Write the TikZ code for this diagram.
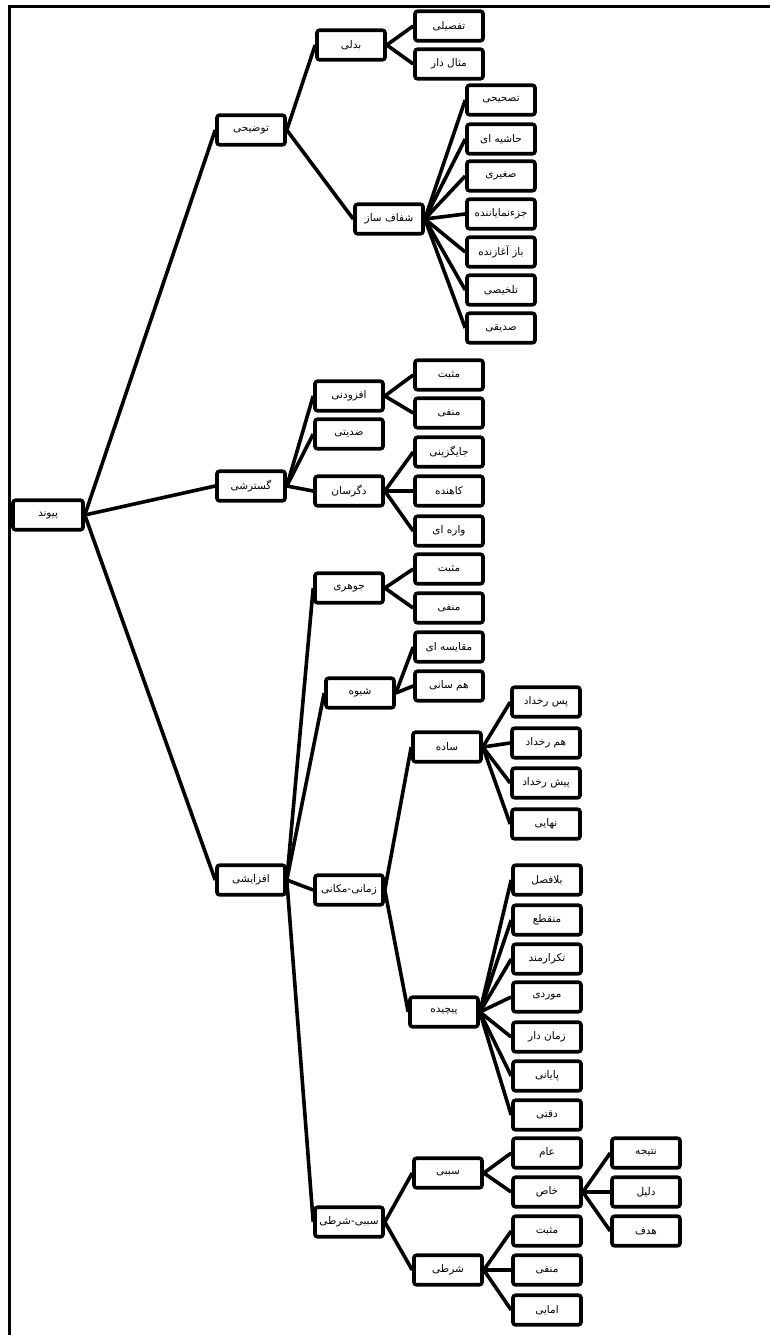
\documentclass[tikz,border=0pt]{standalone}
\usepackage{fontspec}
\newfontfamily\arabicfont[Script=Arabic]{DejaVu Sans}
\TeXXeTstate=1
\tikzset{
  box/.style={draw, line width=3.6pt, rounded corners=2.5pt, fill=white,
    minimum width=68pt, minimum height=29.5pt, inner sep=1pt,
    font=\arabicfont\fontsize{10.5}{12}\selectfont},
  link/.style={line width=3.6pt},
  frameline/.style={line width=3pt},
}
\newcommand{\fa}[1]{\beginR #1\endR}
\begin{document}
\begin{tikzpicture}[x=1pt,y=-1pt]
\useasboundingbox (0,0) rectangle (770,1335);
% frame
\coordinate (ftl) at (9,7);
\coordinate (ftr) at (770,7);
\coordinate (fbl) at (9,1335);
\draw[frameline] (ftr) -- (ftl) -- (fbl);
% root
\node[box, minimum width=70pt] (root) at (48,515) {\fa{پیوند}};
% level 1
\node[box] (tozihi) at (251,130) {\fa{توضیحی}};
\node[box] (gostareshi) at (251,486) {\fa{گسترشی}};
\node[box] (afzayeshi) at (251,880) {\fa{افزایشی}};
% level 2
\node[box] (badali) at (351,45) {\fa{بدلی}};
\node[box] (shafaf) at (389,219) {\fa{شفاف ساز}};
\node[box] (afzoodani) at (349,396) {\fa{افزودنی}};
\node[box] (zeddiyati) at (349,434) {\fa{ضدیتی}};
\node[box] (degarsan) at (349,491) {\fa{دگرسان}};
\node[box] (johari) at (349,588) {\fa{جوهری}};
\node[box] (shive) at (360,693) {\fa{شیوه}};
\node[box] (zamani) at (349,890) {\fa{زمانی-مکانی}};
\node[box] (sababi) at (349,1222) {\fa{سببی-شرطی}};
% level 3
\node[box] (tafsili) at (449,26) {\fa{تفصیلی}};
\node[box] (mesal) at (449,64) {\fa{مثال دار}};
\node[box] (s1) at (501,100) {\fa{تصحیحی}};
\node[box] (s2) at (501,139) {\fa{حاشیه ای}};
\node[box] (s3) at (501,176) {\fa{صغیری}};
\node[box] (s4) at (501,214) {\fa{جزءنمایاننده}};
\node[box] (s5) at (501,252) {\fa{باز آغازنده}};
\node[box] (s6) at (501,290) {\fa{تلخیصی}};
\node[box] (s7) at (501,328) {\fa{صدیقی}};
\node[box] (af1) at (449,375) {\fa{مثبت}};
\node[box] (af2) at (449,413) {\fa{منفی}};
\node[box] (dg1) at (449,452) {\fa{جایگزینی}};
\node[box] (dg2) at (449,491) {\fa{کاهنده}};
\node[box] (dg3) at (449,531) {\fa{واره ای}};
\node[box] (jo1) at (449,569) {\fa{مثبت}};
\node[box] (jo2) at (449,608) {\fa{منفی}};
\node[box] (sh1) at (449,647) {\fa{مقایسه ای}};
\node[box] (sh2) at (449,686) {\fa{هم سانی}};
\node[box] (sade) at (447,747) {\fa{ساده}};
\node[box] (pichide) at (444,1012) {\fa{پیچیده}};
\node[box] (sbb) at (448,1173) {\fa{سببی}};
\node[box] (shrt) at (448,1270) {\fa{شرطی}};
% level 4
\node[box] (sa1) at (546,702) {\fa{پس رخداد}};
\node[box] (sa2) at (546,743) {\fa{هم رخداد}};
\node[box] (sa3) at (546,783) {\fa{پیش رخداد}};
\node[box] (sa4) at (546,824) {\fa{نهایی}};
\node[box] (p1) at (547,880) {\fa{بلافصل}};
\node[box] (p2) at (547,920) {\fa{منقطع}};
\node[box] (p3) at (547,959) {\fa{تکرارمند}};
\node[box] (p4) at (547,997) {\fa{موردی}};
\node[box] (p5) at (547,1037) {\fa{زمان دار}};
\node[box] (p6) at (547,1076) {\fa{پایانی}};
\node[box] (p7) at (547,1115) {\fa{دقتی}};
\node[box] (am) at (547,1153) {\fa{عام}};
\node[box] (kh) at (547,1192) {\fa{خاص}};
\node[box] (c1) at (547,1231) {\fa{مثبت}};
\node[box] (c2) at (547,1270) {\fa{منفی}};
\node[box] (c3) at (547,1310) {\fa{امایی}};
% level 5
\node[box] (n1) at (646,1153) {\fa{نتیجه}};
\node[box] (n2) at (646,1192) {\fa{دلیل}};
\node[box] (n3) at (646,1231) {\fa{هدف}};
% connectors
\foreach \p/\c in {root/tozihi, root/gostareshi, root/afzayeshi,
  tozihi/badali, tozihi/shafaf,
  badali/tafsili, badali/mesal,
  shafaf/s1, shafaf/s2, shafaf/s3, shafaf/s4, shafaf/s5, shafaf/s6, shafaf/s7,
  gostareshi/afzoodani, gostareshi/zeddiyati, gostareshi/degarsan,
  afzoodani/af1, afzoodani/af2,
  degarsan/dg1, degarsan/dg2, degarsan/dg3,
  afzayeshi/johari, afzayeshi/shive, afzayeshi/zamani, afzayeshi/sababi,
  johari/jo1, johari/jo2, shive/sh1, shive/sh2,
  zamani/sade, zamani/pichide,
  sade/sa1, sade/sa2, sade/sa3, sade/sa4,
  pichide/p1, pichide/p2, pichide/p3, pichide/p4, pichide/p5, pichide/p6, pichide/p7,
  sababi/sbb, sababi/shrt,
  sbb/am, sbb/kh, shrt/c1, shrt/c2, shrt/c3,
  kh/n1, kh/n2, kh/n3}
  \draw[link] (\p.east) -- (\c.west);
\end{tikzpicture}
\end{document}
